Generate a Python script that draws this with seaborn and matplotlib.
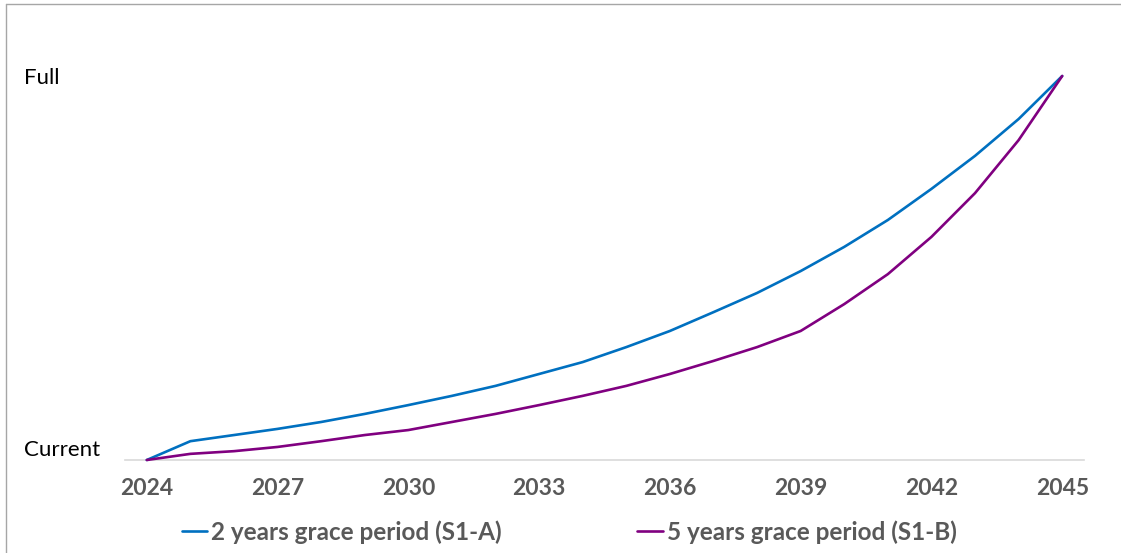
import matplotlib
matplotlib.use("Agg")
import matplotlib.pyplot as plt
from matplotlib.lines import Line2D
import seaborn as sns
import pandas as pd

years = list(range(2024, 2046))
grace_2y = [0.0, 0.049, 0.065, 0.081, 0.099, 0.120, 0.143, 0.167, 0.193, 0.224, 0.255,
            0.294, 0.336, 0.385, 0.435, 0.492, 0.555, 0.625, 0.706, 0.792, 0.888, 1.0]
grace_5y = [0.0, 0.016, 0.023, 0.034, 0.049, 0.065, 0.078, 0.099, 0.120, 0.143, 0.167,
            0.193, 0.224, 0.258, 0.294, 0.336, 0.406, 0.484, 0.581, 0.695, 0.833, 1.0]
series_names = ["2 years grace period (S1-A)", "5 years grace period (S1-B)"]
series_colors = ["#0070C0", "#800080"]
xtick_years = list(range(2024, 2046, 3))
ytick_labels = ["Current", "Full"]

df = pd.concat([
    pd.DataFrame({"year": years, "level": grace_2y, "scenario": series_names[0]}),
    pd.DataFrame({"year": years, "level": grace_5y, "scenario": series_names[1]}),
])

sns.set_theme(style="white")
plt.rcParams["font.family"] = ["Lato", "DejaVu Sans"]

fig = plt.figure(figsize=(11.21, 5.53), dpi=100)
ax = fig.add_axes([125 / 1121, 93 / 553, 959 / 1121, 422.4 / 553])

sns.lineplot(data=df, x="year", y="level", hue="scenario",
             palette=dict(zip(series_names, series_colors)),
             linewidth=1.9, ax=ax, legend=False, clip_on=False)

ax.set_xlim(2023.5, 2045.5)
ax.set_ylim(0, 1.1)
ax.set_xlabel("")
ax.set_ylabel("")

for s in ["top", "right", "left"]:
    ax.spines[s].set_visible(False)
ax.spines["bottom"].set_color("#D9D9D9")
ax.spines["bottom"].set_linewidth(1.2)
ax.spines["bottom"].set_zorder(0)

ax.set_xticks(xtick_years)
ax.set_xticklabels([str(y) for y in xtick_years], fontsize=16.5, fontweight="bold",
                   color="#595959")
ax.tick_params(axis="x", length=0, pad=13)

ax.set_yticks([0, 1])
ax.set_yticklabels(ytick_labels, fontsize=16, color="black")
ax.tick_params(axis="y", length=0, pad=73)
for lab in ax.get_yticklabels():
    lab.set_horizontalalignment("left")
ax.get_yticklabels()[0].set_verticalalignment("bottom")

handles = [Line2D([], [], color=c, linewidth=1.9) for c in series_colors]
leg = fig.legend(handles, series_names, loc="center", ncol=2,
                 bbox_to_anchor=(569 / 1121, 1 - 532 / 553), frameon=False,
                 handlelength=1.05, handletextpad=0.15, columnspacing=5.6,
                 prop={"size": 17.5, "weight": "bold"})
for t in leg.get_texts():
    t.set_color("#595959")

# thin frame along the top and left edges
fig.add_artist(Line2D([6 / 1121, 1], [1 - 4 / 553, 1 - 4 / 553],
                      transform=fig.transFigure, color="#A6A6A6", linewidth=1.0))
fig.add_artist(Line2D([6 / 1121, 6 / 1121], [0, 1 - 4 / 553],
                      transform=fig.transFigure, color="#A6A6A6", linewidth=1.0))

fig.savefig("out.png", dpi=100, facecolor="white")
